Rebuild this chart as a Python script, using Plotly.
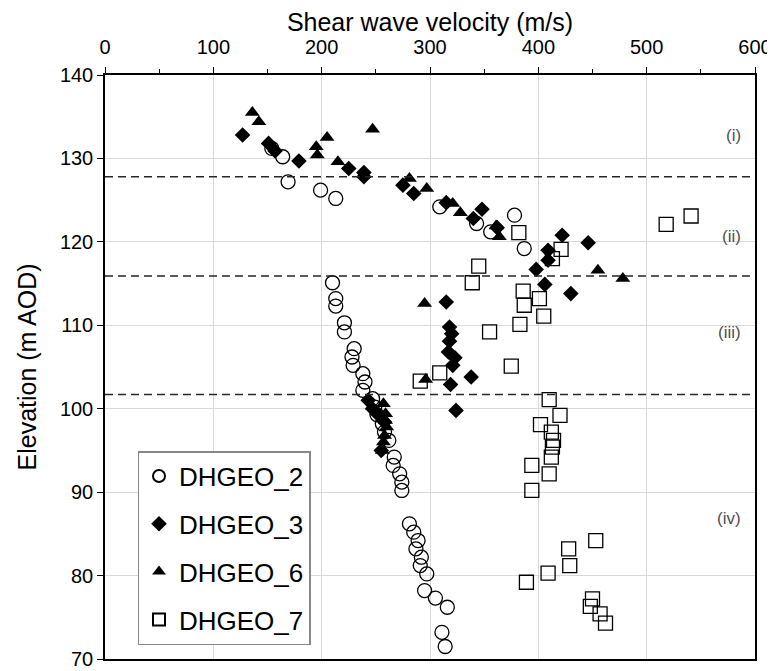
import plotly.graph_objects as go

# DHGEO_2 (open circles): velocity (m/s), elevation (m AOD)
g2_v = [154, 164, 169, 199, 213, 309, 343, 356, 378, 387,
        210, 213, 213, 221, 221, 230, 228, 229, 238, 240, 238, 247,
        249, 251, 256, 258, 262, 267, 266, 272, 274, 274,
        281, 285, 289, 287, 292, 291, 297, 295, 305, 316, 311, 314]
g2_e = [131.2, 130.2, 127.2, 126.2, 125.2, 124.2, 122.2, 121.2, 123.2, 119.2,
        115.1, 113.2, 112.3, 110.3, 109.2, 107.2, 106.2, 105.2, 104.2, 103.2, 102.2, 101.2,
        100.2, 99.3, 98.2, 97.2, 96.2, 94.2, 93.2, 92.2, 91.2, 90.2,
        86.2, 85.2, 84.2, 83.2, 82.2, 81.2, 80.2, 78.2, 77.3, 76.2, 73.2, 71.5]

# DHGEO_3 (filled diamonds)
g3_v = [127, 151, 157, 179, 225, 239, 239, 275, 285, 315, 340, 348, 362,
        422, 446, 409, 409, 398, 406, 430, 315,
        318, 320, 318, 317, 323, 321, 338, 319, 324,
        243, 247, 252, 258, 255]
g3_e = [132.8, 131.8, 130.9, 129.7, 128.8, 128.3, 127.8, 126.8, 125.8, 124.7, 122.8, 123.9, 121.7,
        120.8, 119.9, 119.0, 117.8, 116.7, 114.9, 113.8, 112.8,
        109.8, 109.0, 108.1, 106.8, 106.1, 105.2, 103.8, 102.9, 99.8,
        101.0, 100.0, 99.3, 98.4, 95.0]

# DHGEO_6 (filled triangles)
g6_v = [136, 142, 195, 205, 196, 215, 247, 281, 297, 321, 328, 361, 364,
        455, 478, 295, 296,
        257, 259, 259, 260, 258, 257, 256]
g6_e = [135.5, 134.4, 131.4, 132.5, 130.4, 129.6, 133.5, 127.6, 126.4, 124.6, 123.5, 121.9, 120.6,
        116.6, 115.6, 112.6, 103.5,
        100.6, 99.4, 98.6, 97.8, 96.8, 96.0, 95.0]

# DHGEO_7 (open squares)
g7_v = [518, 541, 382, 421, 413, 345, 339, 386, 401, 387, 405, 383, 355, 375,
        291, 309, 410, 420, 402, 412, 414, 413, 412, 394, 410, 394,
        453, 428, 429, 409, 389, 450, 448, 457, 462]
g7_e = [122.1, 123.1, 121.1, 119.1, 118.0, 117.1, 115.1, 114.1, 113.2, 112.4, 111.1, 110.1, 109.2, 105.1,
        103.3, 104.3, 101.1, 99.2, 98.1, 97.2, 96.2, 95.4, 94.2, 93.2, 92.2, 90.2,
        84.2, 83.2, 81.2, 80.3, 79.2, 77.2, 76.3, 75.4, 74.3]

boundaries = [127.8, 115.9, 101.7]
zone_labels = ["(i)", "(ii)", "(iii)", "(iv)"]
zone_label_y = [132.8, 120.6, 109.1, 86.9]

FONT = "Liberation Sans, Arial, sans-serif"

fig = go.Figure()
fig.add_trace(go.Scatter(x=g2_v, y=g2_e, mode="markers", name="DHGEO_2", legendgroup="a",
                         marker=dict(symbol="circle-open", size=14, color="black", line=dict(width=1.3))))
fig.add_trace(go.Scatter(x=g3_v, y=g3_e, mode="markers", name="DHGEO_3", legendgroup="b",
                         marker=dict(symbol="diamond", size=12, color="black")))
fig.add_trace(go.Scatter(x=g6_v, y=g6_e, mode="markers", name="DHGEO_6", legendgroup="c",
                         marker=dict(symbol="triangle-up", size=13, color="black")))
fig.add_trace(go.Scatter(x=g7_v, y=g7_e, mode="markers", name="DHGEO_7", legendgroup="d",
                         marker=dict(symbol="square-open", size=14, color="black", line=dict(width=1.3))))

for b in boundaries:
    fig.add_shape(type="line", xref="paper", x0=0, x1=1, yref="y", y0=b, y1=b,
                  line=dict(color="#262626", width=1.4, dash="8px,5px"), layer="above")

for lab, yy in zip(zone_labels, zone_label_y):
    fig.add_annotation(x=0.982, xref="paper", y=yy, yref="y", text=lab, showarrow=False,
                       xanchor="right", font=dict(size=17, color="#505050", family=FONT))

# the page body adds an 8px offset, so the figure is 8px smaller than the window
fig.update_layout(
    width=767, height=663,
    margin=dict(l=97, r=20, t=67, b=12, autoexpand=False),
    paper_bgcolor="white", plot_bgcolor="white",
    font=dict(family=FONT, color="black"),
    showlegend=True,
    legend=dict(x=0.05, y=0.356, xanchor="left", yanchor="top",
                bgcolor="white", bordercolor="#888888", borderwidth=1.5,
                font=dict(size=26, family=FONT), tracegroupgap=11,
                itemsizing="constant"),
    xaxis=dict(side="top", range=[0, 600], dtick=100, showgrid=True, gridcolor="#d9d9d9",
               gridwidth=1.3, zeroline=False, showline=True, linecolor="black", linewidth=1.5,
               mirror=True, ticks="outside", ticklen=6, tickcolor="black", automargin=False,
               ticklabelstandoff=5,
               minor=dict(dtick=50, ticks="outside", ticklen=4, tickcolor="black", showgrid=False),
               tickfont=dict(size=20, family=FONT),
               title=dict(text="Shear wave velocity (m/s)", font=dict(size=25, family=FONT), standoff=4)),
    yaxis=dict(range=[70, 140], dtick=10, showgrid=True, gridcolor="#d9d9d9", gridwidth=1.3,
               zeroline=False, showline=True, linecolor="black", linewidth=1.5, mirror=True,
               ticks="outside", ticklen=6, tickcolor="black", automargin=False,
               tickfont=dict(size=20, family=FONT),
               title=dict(text="Elevation (m AOD)", font=dict(size=25, family=FONT), standoff=16)),
)

fig.write_html("out.html")
